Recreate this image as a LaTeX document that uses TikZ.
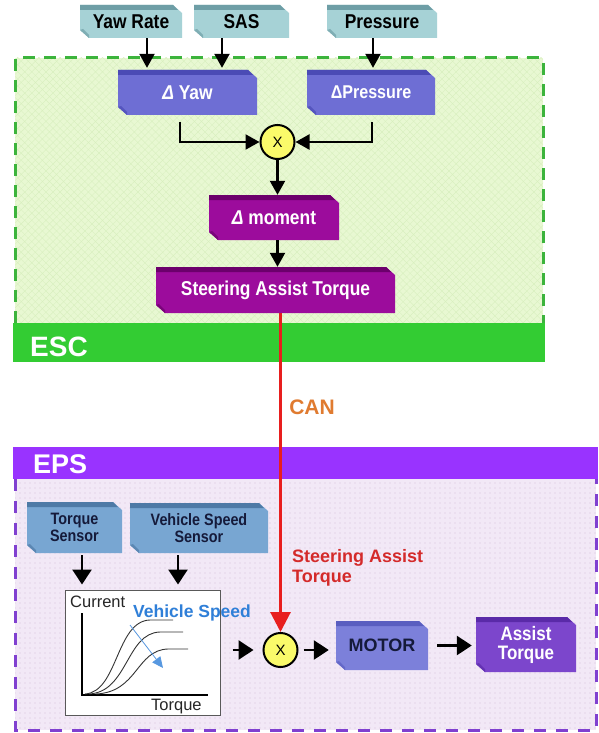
\documentclass[tikz,border=0pt]{standalone}
\usepackage{fontspec}
\setmainfont{Liberation Sans}
\newfontfamily\nar{Liberation Sans}[FakeStretch=0.87]
\usetikzlibrary{arrows.meta,patterns.meta,calc}
\definecolor{tealbody}{HTML}{A6D2D6}
\definecolor{tealtop}{HTML}{6E9EA6}
\definecolor{perbody}{HTML}{6E6ED4}
\definecolor{pertop}{HTML}{4B4BB5}
\definecolor{magbody}{HTML}{9C0C9C}
\definecolor{magtop}{HTML}{6C006C}
\definecolor{stbody}{HTML}{78A6D2}
\definecolor{sttop}{HTML}{4E7AA6}
\definecolor{motbody}{HTML}{7C80DA}
\definecolor{mottop}{HTML}{5A5EC0}
\definecolor{asbody}{HTML}{7C46CC}
\definecolor{astop}{HTML}{5A2AA8}
\definecolor{escfill}{HTML}{E8F8D2}
\definecolor{eschatch}{HTML}{D6EEBC}
\definecolor{escdash}{HTML}{3CB43C}
\definecolor{escbar}{HTML}{33CC33}
\definecolor{epsbar}{HTML}{9933FF}
\definecolor{epsfill}{HTML}{F2E8F6}
\definecolor{epsdot}{HTML}{D4BFD9}
\definecolor{epsdash}{HTML}{8040D0}
\definecolor{navy}{HTML}{151A3A}
\definecolor{canorange}{HTML}{E07B30}
\definecolor{sigred}{HTML}{E81E1E}
\definecolor{txtred}{HTML}{D42A2A}
\definecolor{vsblue}{HTML}{2F7FD8}
\definecolor{mulyellow}{HTML}{FAFA6A}
\tikzset{
  cube/.style 2 args={inner sep=0pt, align=center, path picture={
    \coordinate (cNW) at (path picture bounding box.north west);
    \coordinate (cNE) at (path picture bounding box.north east);
    \coordinate (cSE) at (path picture bounding box.south east);
    \coordinate (cSW) at (path picture bounding box.south west);
    \fill[#1] (cNW) -- ([xshift=-9pt]cNE) -- ([yshift=-8pt]cNE) -- (cSE)
      -- ([xshift=9pt]cSW) -- ([yshift=8pt]cSW) -- cycle;
    \fill[#2] (cNW) -- ([xshift=-9pt]cNE) -- ([xshift=-4pt,yshift=-5pt]cNE)
      -- ([yshift=-5pt]cNW) -- cycle;
    \fill[#2!70!#1] ([yshift=8pt]cSW) -- ([xshift=9pt]cSW) -- ([xshift=9pt,yshift=3pt]cSW)
      -- ([xshift=3pt,yshift=9pt]cSW) -- cycle;
  }},
  bigtxt/.style={font=\nar\bfseries\fontsize{20}{22}\selectfont},
  midtxt/.style={font=\nar\bfseries\fontsize{16.5}{17}\selectfont},
  arr/.style={line width=2.2pt, -{Triangle[length=14pt,width=15pt]}},
  barr/.style={line width=2.6pt, -{Triangle[length=15pt,width=19pt]}},
  mul/.style={circle, draw=black, line width=2pt, fill=mulyellow, minimum size=34pt,
    inner sep=0pt, font=\fontsize{15}{15}\selectfont},
}
\begin{document}
\begin{tikzpicture}[x=1pt,y=-1pt]
\useasboundingbox[fill=white] (0,0) rectangle (599,733);

% ESC region
\fill[escfill] (15,58) rectangle (543,323);
\fill[pattern={Lines[angle=45,distance=5pt,line width=0.3pt]}, pattern color=eschatch] (15,58) rectangle (543,323);
\fill[pattern={Lines[angle=-45,distance=5pt,line width=0.3pt]}, pattern color=eschatch] (15,58) rectangle (543,323);
\draw[escdash, line width=3pt, dash pattern=on 12pt off 9pt] (15,323) -- (15,58) -- (543,58) -- (543,323);
\fill[escbar] (13,323) rectangle (545,362);
\node[anchor=base west, inner sep=0pt, text=white, font=\bfseries\fontsize{28}{28}\selectfont] (esclbl) at (30,356) {ESC};

% EPS region
\fill[epsfill] (15,479) rectangle (596,730);
\fill[pattern={Dots[distance=5pt,radius=0.55pt]}, pattern color=epsdot] (15,479) rectangle (596,730);
\draw[epsdash, line width=3pt, dash pattern=on 12pt off 10pt] (15,479) -- (15,730) -- (596,730) -- (596,479);
\fill[epsbar] (13,447) rectangle (598,479);
\node[anchor=base west, inner sep=0pt, text=white, font=\bfseries\fontsize{27}{27}\selectfont] (epslbl) at (33,473) {EPS};

% ESC nodes
\node[cube={tealbody}{tealtop}, bigtxt, text=black, minimum width=102pt, minimum height=33pt] (yawrate) at (131,21.5) {Yaw Rate};
\node[cube={tealbody}{tealtop}, bigtxt, text=black, minimum width=95pt, minimum height=33pt] (sas) at (241.5,21.5) {SAS};
\node[cube={tealbody}{tealtop}, bigtxt, text=black, minimum width=110pt, minimum height=33pt] (pressure) at (382,21.5) {Pressure};
\node[cube={perbody}{pertop}, bigtxt, text=white, minimum width=139pt, minimum height=45pt] (dyaw) at (187.5,92.5) {{\itshape Δ} Yaw};
\node[cube={perbody}{pertop}, font=\nar\bfseries\fontsize{18.5}{20}\selectfont, text=white, minimum width=128pt, minimum height=45pt] (dpress) at (371,92.5) {ΔPressure};
\node[mul] (mul1) at (277.5,142) {X};
\node[cube={magbody}{magtop}, bigtxt, text=white, minimum width=130pt, minimum height=45pt] (dmoment) at (274,217.5) {{\itshape Δ} moment};
\node[cube={magbody}{magtop}, bigtxt, text=white, minimum width=239pt, minimum height=46pt] (sat) at (275.5,290) {Steering Assist Torque};

\draw[arr, shorten >=2pt] ([xshift=16pt]yawrate.south) -- ([xshift=16pt]yawrate.south |- dyaw.north);
\draw[arr, shorten >=2pt] ([xshift=-19.5pt]sas.south) -- ([xshift=-19.5pt]sas.south |- dyaw.north);
\draw[arr, shorten >=2pt] ([xshift=-9pt]pressure.south) -- ([xshift=-9pt]pressure.south |- dpress.north);
\draw[arr] ([xshift=-7.5pt,yshift=-7pt]dyaw.south) |- (mul1.west);
\draw[arr] ([xshift=1pt,yshift=-7pt]dpress.south) |- (mul1.east);
\draw[arr] (mul1.south) -- (mul1.south |- dmoment.north);
\draw[arr] (mul1 |- dmoment.south) -- (mul1 |- sat.north);

% CAN
\node[text=canorange, font=\bfseries\fontsize{21}{21}\selectfont] (can) at (312,407) {CAN};

% EPS nodes
\node[cube={stbody}{sttop}, midtxt, text=navy, minimum width=95pt, minimum height=51pt] (tsensor) at (74.5,527.5) {Torque\\Sensor};
\node[cube={stbody}{sttop}, midtxt, text=navy, minimum width=138pt, minimum height=50pt] (vss) at (199,528) {Vehicle Speed\\Sensor};
\node[draw=black!65, line width=1pt, fill=white, minimum width=155pt, minimum height=125pt, inner sep=0pt] (graph) at (142.5,652.5) {};
\node[mul] (mul2) at (280.5,650) {X};
\node[cube={motbody}{mottop}, font=\bfseries\fontsize{18}{18}\selectfont, text=navy, minimum width=92pt, minimum height=49pt] (motor) at (382,645.5) {MOTOR};
\node[cube={asbody}{astop}, font=\nar\bfseries\fontsize{19.5}{19}\selectfont, text=white, minimum width=100pt, minimum height=55pt] (assist) at (526,644.5) {Assist\\Torque};

% graph contents
\draw[line width=1.6pt, black] (82,613) -- (82,695) -- (208,695);
\draw[line width=0.9pt, black!80] (85,694) .. controls (118,692) and (116,621) .. (150,620) -- (173,620);
\draw[line width=0.9pt, black!80] (89,694) .. controls (128,692) and (126,633) .. (160,632) -- (183,632);
\draw[line width=0.9pt, black!80] (96,694) .. controls (138,692) and (136,650) .. (168,649) -- (188,649);
\draw[line width=0.8pt, vsblue!80, -{Triangle[length=11pt,width=10pt]}] (130,625) -- (163,668);
\node[anchor=base west, inner sep=0pt, text=black!85, font=\fontsize{16.5}{16.5}\selectfont] (current) at (70,607) {Current};
\node[anchor=base west, inner sep=0pt, text=vsblue, font=\bfseries\fontsize{17.5}{17.5}\selectfont] (vspeed) at (133,617) {Vehicle Speed};
\node[anchor=base west, inner sep=0pt, text=black!85, font=\fontsize{16.5}{16.5}\selectfont] (torquelbl) at (151,710) {Torque};

% red signal
\node[anchor=north west, inner sep=0pt, align=left, text=txtred, font=\bfseries\fontsize{18}{20.5}\selectfont] (sattxt) at (292,549) {Steering Assist\\Torque};
\draw[sigred, line width=3pt, -{Triangle[length=20pt,width=20pt]}] (mul2 |- sat.south) -- (mul2.north);

% EPS connectors
\draw[barr, shorten <=2pt, shorten >=5pt] ([xshift=7.5pt]tsensor.south) -- ([xshift=7.5pt]tsensor.south |- graph.north);
\draw[barr, shorten <=2pt, shorten >=5pt] ([xshift=-21pt]vss.south) -- ([xshift=-21pt]vss.south |- graph.north);
\draw[barr, shorten <=12pt, shorten >=9pt] (graph.east |- mul2) -- (mul2.west);
\draw[barr, shorten <=5pt, shorten >=7pt] (mul2.east) -- (mul2.east -| motor.west);
\draw[barr, shorten <=9pt, shorten >=4pt] (motor.east) -- (motor.east -| assist.west);
\end{tikzpicture}
\end{document}
